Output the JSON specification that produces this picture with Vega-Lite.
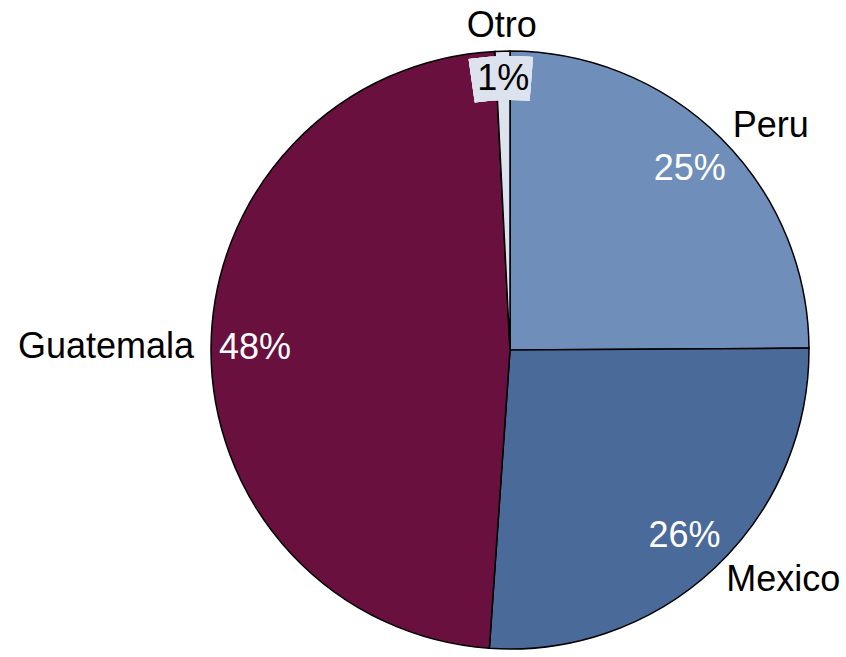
{
  "$schema": "https://vega.github.io/schema/vega-lite/v6.json",
  "width": 600,
  "height": 600,
  "autosize": {"type": "none"},
  "padding": {"left": 210, "top": 50, "right": 36, "bottom": 7},
  "background": "white",
  "view": {"stroke": null},
  "data": {
    "values": [
      {"pais": "Peru", "valor": 0.249, "orden": 1},
      {"pais": "Mexico", "valor": 0.262, "orden": 2},
      {"pais": "Guatemala", "valor": 0.481, "orden": 3},
      {"pais": "Otro", "valor": 0.008, "orden": 4}
    ]
  },
  "layer": [
    {
      "mark": {"type": "arc", "outerRadius": 299, "stroke": "black", "strokeWidth": 1.5},
      "encoding": {
        "theta": {"field": "valor", "type": "quantitative", "stack": true, "scale": {"domain": [0, 1]}},
        "order": {"field": "orden", "type": "quantitative"},
        "color": {
          "field": "pais",
          "type": "nominal",
          "scale": {"domain": ["Peru", "Mexico", "Guatemala", "Otro"], "range": ["#6F8FBA", "#4A6B9A", "#69103E", "#DCE3EE"]},
          "legend": null
        }
      }
    },
    {
      "mark": {"type": "arc", "outerRadius": 294, "innerRadius": 250, "fill": "#DCE3EE", "stroke": null},
      "encoding": {
        "theta": {"datum": 0.9775, "type": "quantitative"},
        "theta2": {"datum": 1.0125}
      }
    },
    {
      "mark": {
        "type": "text",
        "radius": {"expr": "datum.pais == 'Otro' ? 271 : 255"},
        "font": "Liberation Sans",
        "fontSize": 36,
        "baseline": "middle",
        "align": "center",
        "fill": {"expr": "datum.pais == 'Otro' ? 'black' : 'white'"}
      },
      "encoding": {
        "theta": {"field": "valor", "type": "quantitative", "stack": true},
        "order": {"field": "orden", "type": "quantitative"},
        "text": {"field": "valor", "type": "quantitative", "format": ".0%"}
      }
    },
    {
      "mark": {
        "type": "text",
        "radius": {"expr": "datum.pais == 'Otro' ? 324 : 316"},
        "font": "Liberation Sans",
        "fontSize": 36,
        "baseline": "middle",
        "fill": "black",
        "align": {"expr": "datum.pais == 'Guatemala' ? 'right' : datum.pais == 'Otro' ? 'center' : 'left'"}
      },
      "encoding": {
        "theta": {"field": "valor", "type": "quantitative", "stack": true},
        "order": {"field": "orden", "type": "quantitative"},
        "text": {"field": "pais", "type": "nominal"}
      }
    }
  ]
}
